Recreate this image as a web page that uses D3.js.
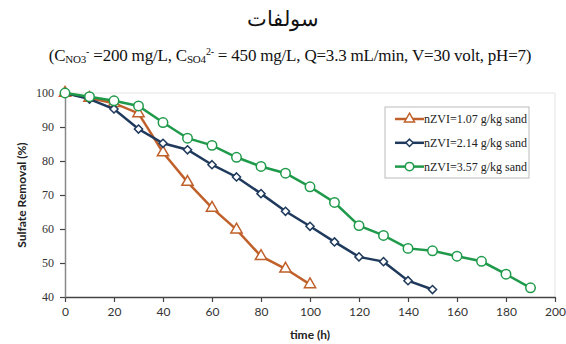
<!DOCTYPE html>
<html>
<head>
<meta charset="utf-8">
<script src="https://cdn.jsdelivr.net/npm/d3@7"></script>
<style>
  body { margin: 0; background: #fff; }
</style>
</head>
<body>
<svg id="chart" width="566" height="344"></svg>
<script>
// time axis (h)
const times = [0, 10, 20, 30, 40, 50, 60, 70, 80, 90, 100, 110, 120, 130, 140, 150, 160, 170, 180, 190];
const seriesNames = ['nZVI=1.07 g/kg sand', 'nZVI=2.14 g/kg sand', 'nZVI=3.57 g/kg sand'];
// sulfate removal (%)
const removal107 = [100, 98.5, 97, 94, 82.5, 73.8, 66.2, 59.8, 52, 48.3, 43.7];
const removal214 = [100, 98.2, 95.3, 89.4, 85.2, 83.3, 78.9, 75.3, 70.4, 65.2, 60.8, 56.2, 51.8, 50.4, 44.8, 42.2];
const removal357 = [100, 98.9, 97.7, 96.2, 91.3, 86.7, 84.6, 81.1, 78.4, 76.4, 72.4, 67.8, 61, 58.1, 54.3, 53.6, 52, 50.5, 46.7, 42.7];
const xTicks = [0, 20, 40, 60, 80, 100, 120, 140, 160, 180, 200];
const yTicks = [40, 50, 60, 70, 80, 90, 100];

const svg = d3.select('#chart');
const width = +svg.attr('width');
const height = +svg.attr('height');
const margin = { top: 93, right: 11, bottom: 47, left: 65 };

const x = d3.scaleLinear().domain([0, 200]).range([margin.left, width - margin.right]);
const y = d3.scaleLinear().domain([40, 100]).range([height - margin.bottom, margin.top]);

// titles
svg.append('text')
    .attr('x', 283).attr('y', 26)
    .attr('text-anchor', 'middle')
    .attr('font-family', '"DejaVu Serif", "Liberation Serif", serif')
    .attr('font-size', 21)
    .attr('fill', '#111')
    .text('سولفات');

const sub = svg.append('text')
    .attr('x', 290).attr('y', 61)
    .attr('text-anchor', 'middle')
    .attr('font-family', '"Liberation Serif", "Times New Roman", serif')
    .attr('font-size', 17)
    .attr('letter-spacing', -0.2)
    .attr('fill', '#111');
sub.append('tspan').text('(C');
sub.append('tspan').attr('font-size', 11).attr('dy', 2).text('NO3');
sub.append('tspan').attr('font-size', 10).attr('dy', -8).text('-');
sub.append('tspan').attr('dy', 6).text(' =200 mg/L, C');
sub.append('tspan').attr('font-size', 11).attr('dy', 2).text('SO4');
sub.append('tspan').attr('font-size', 10).attr('dy', -8).text('2-');
sub.append('tspan').attr('dy', 6).text(' = 450 mg/L, Q=3.3 mL/min, V=30 volt, pH=7)');

// light frame on top and right
svg.append('path')
    .attr('d', `M${x(0)},${y(100)}H${x(200)}V${y(40)}`)
    .attr('fill', 'none')
    .attr('stroke', '#e4e4e4')
    .attr('stroke-width', 1);

// x axis
const xAxis = svg.append('g')
    .attr('transform', `translate(0,${y(40)})`)
    .call(d3.axisBottom(x).tickValues(xTicks).tickSize(5).tickSizeOuter(0).tickPadding(5));
xAxis.select('.domain').attr('stroke', '#444').attr('stroke-width', 1.5);
xAxis.selectAll('.tick line').attr('stroke', '#444').attr('stroke-width', 1.2);
xAxis.selectAll('text')
    .attr('font-family', 'Lato, "Open Sans", sans-serif')
    .attr('font-size', 12)
    .attr('fill', '#333');

// y axis
const yAxis = svg.append('g')
    .attr('transform', `translate(${x(0)},0)`)
    .call(d3.axisLeft(y).tickValues(yTicks).tickSize(5).tickSizeOuter(0).tickPadding(6));
yAxis.select('.domain').attr('stroke', '#888').attr('stroke-width', 1.5);
yAxis.selectAll('.tick line').attr('stroke', '#444').attr('stroke-width', 1.2);
yAxis.selectAll('text')
    .attr('font-family', '"Liberation Serif", "Times New Roman", serif')
    .attr('font-size', 12)
    .attr('fill', '#333');

// axis labels
svg.append('text')
    .attr('x', 310).attr('y', 339)
    .attr('text-anchor', 'middle')
    .attr('font-family', 'Lato, "Open Sans", sans-serif')
    .attr('font-weight', 'bold')
    .attr('font-size', 12)
    .attr('fill', '#222')
    .text('time (h)');

svg.append('text')
    .attr('transform', `translate(26,${(y(40) + y(100)) / 2}) rotate(-90)`)
    .attr('text-anchor', 'middle')
    .attr('font-family', 'Lato, "Open Sans", sans-serif')
    .attr('font-weight', 'bold')
    .attr('font-size', 12)
    .attr('fill', '#222')
    .text('Sulfate Removal (%)');

// series
const series = [
    { name: seriesNames[0], values: removal107, color: '#c0602a', symbol: d3.symbolTriangle, size: 55 },
    { name: seriesNames[1], values: removal214, color: '#1f3a5c', symbol: d3.symbolDiamond2 || d3.symbolDiamond, size: 42 },
    { name: seriesNames[2], values: removal357, color: '#1f9a4a', symbol: d3.symbolCircle, size: 70 }
];

const line = d3.line()
    .x(d => x(d.t))
    .y(d => y(d.v));

series.forEach(s => {
    const pts = s.values.map((v, i) => ({ t: times[i], v }));
    svg.append('path')
        .datum(pts)
        .attr('d', line)
        .attr('fill', 'none')
        .attr('stroke', s.color)
        .attr('stroke-width', 2.5);
    svg.append('g')
        .selectAll('path')
        .data(pts)
        .enter()
        .append('path')
        .attr('transform', d => `translate(${x(d.t)},${y(d.v)})`)
        .attr('d', d3.symbol().type(s.symbol).size(s.size))
        .attr('fill', '#fff')
        .attr('stroke', s.color)
        .attr('stroke-width', 1.5);
});

// legend
const legend = svg.append('g');
legend.append('rect')
    .attr('x', 385).attr('y', 107)
    .attr('width', 144).attr('height', 71)
    .attr('fill', '#fff')
    .attr('stroke', '#bbb')
    .attr('stroke-width', 1);

series.forEach((s, i) => {
    const ly = 119 + i * 23.8;
    legend.append('line')
        .attr('x1', 395).attr('x2', 424)
        .attr('y1', ly).attr('y2', ly)
        .attr('stroke', s.color)
        .attr('stroke-width', 2.5);
    legend.append('path')
        .attr('transform', `translate(409.5,${ly})`)
        .attr('d', d3.symbol().type(s.symbol).size(s.size * 0.8))
        .attr('fill', '#fff')
        .attr('stroke', s.color)
        .attr('stroke-width', 1.5);
    legend.append('text')
        .attr('x', 424).attr('y', ly + 4)
        .attr('font-family', '"Liberation Serif", "Times New Roman", serif')
        .attr('font-size', 12)
        .attr('fill', '#222')
        .text(s.name);
});
</script>
</body>
</html>
